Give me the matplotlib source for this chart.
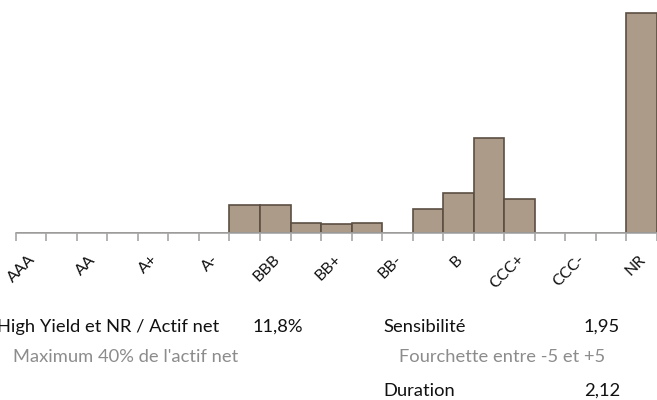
import matplotlib
matplotlib.use("Agg")
import matplotlib.pyplot as plt
from matplotlib.transforms import ScaledTranslation

ratings = ["AAA", "AA+", "AA", "AA-", "A+", "A", "A-", "BBB+", "BBB", "BBB-",
           "BB+", "BB", "BB-", "B+", "B", "B-", "CCC+", "CCC", "CCC-", "CC", "NR"]
weights = [0, 0, 0, 0, 0, 0, 0, 5.6, 5.6, 2.0,
           1.8, 2.1, 0, 4.8, 8.0, 19.1, 6.9, 0, 0, 0, 44.2]
shown_labels = ["AAA", "AA", "A+", "A-", "BBB", "BB+", "BB-", "B", "CCC+", "CCC-", "NR"]

plt.rcParams.update({"font.family": ["Lato", "DejaVu Sans"]})
W, H = 657, 400
fig = plt.figure(figsize=(W / 100, H / 100), dpi=100)
ax = fig.add_axes([15.7 / W, 1 - 233 / H, (W - 15.7) / W, 233 / H])

x = list(range(len(ratings)))
ax.bar(x, weights, width=1.0, color="#ac9b88", edgecolor="#5b4f42", linewidth=1.2)
ax.set_xlim(-0.5, len(ratings) - 0.5)
ax.set_ylim(0, 46.9)

for s in ["top", "right", "left"]:
    ax.spines[s].set_visible(False)
ax.spines["bottom"].set_color("#a6a6a6")
ax.spines["bottom"].set_linewidth(1.2)
ax.set_yticks([])

pos = [ratings.index(l) for l in shown_labels]
ax.set_xticks(pos)
ax.set_xticklabels(shown_labels, rotation=45, ha="right", va="top",
                   rotation_mode="anchor", fontsize=11.5, color="#111111")
ax.tick_params(axis="x", which="major", length=0, pad=14)
shift = ScaledTranslation(-3 / 100, 0, fig.dpi_scale_trans)
for lab in ax.get_xticklabels():
    lab.set_transform(lab.get_transform() + shift)
ax.set_xticks([i - 0.5 for i in range(len(ratings) + 1)], minor=True)
ax.tick_params(axis="x", which="minor", length=6, width=1.2, color="#a6a6a6")


def ftxt(px, py, s, color="#111111", ha="left"):
    fig.text(px / W, 1 - py / H, s, color=color, ha=ha, va="baseline", fontsize=13.2)


ftxt(-3, 332, "High Yield et NR / Actif net")
ftxt(253, 332, "11,8%")
ftxt(13, 362, "Maximum 40% de l'actif net", color="#8c8c8c")
ftxt(383, 332, "Sensibilité")
ftxt(584, 332, "1,95")
ftxt(399, 362, "Fourchette entre -5 et +5", color="#8c8c8c")
ftxt(383, 396, "Duration")
ftxt(584, 396, "2,12")

fig.savefig("out.png", dpi=100)
